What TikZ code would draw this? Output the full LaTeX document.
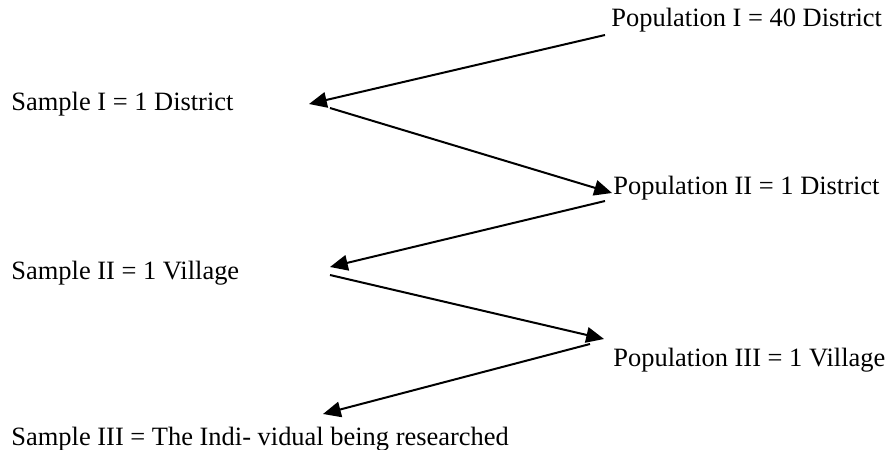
\documentclass[tikz,border=0pt]{standalone}
\usepackage{fontspec}
\setmainfont{Liberation Serif}
\usetikzlibrary{arrows.meta}
\begin{document}
\begin{tikzpicture}[x=0.45pt,y=-0.45pt,
  lbl/.style={anchor=base west,inner sep=0pt,font=\fontsize{11.9}{14}\selectfont},
  arr/.style={line width=0.9pt,-{Triangle[length=8pt,width=7pt]}}]
\useasboundingbox (0,0) rectangle (890,450);
\node[lbl] (p1) at (611,27) {Population I = 40 District};
\node[lbl] (s1) at (11,111) {Sample I = 1 District};
\node[lbl] (p2) at (613,195) {Population II = 1 District};
\node[lbl] (s2) at (11,280) {Sample II = 1 Village};
\node[lbl] (p3) at (613,366) {Population III = 1 Village};
\node[lbl] (s3) at (11,445) {Sample III = The Indi- vidual being researched};
\coordinate (a1s) at (605,35);
\coordinate (a1e) at (309,104);
\coordinate (a2s) at (330,108);
\coordinate (a2e) at (612,193);
\coordinate (a3s) at (605,201);
\coordinate (a3e) at (330,267);
\coordinate (a4s) at (330,275);
\coordinate (a4e) at (604,339);
\coordinate (a5s) at (590,344);
\coordinate (a5e) at (323,414);
\draw[arr] (a1s) -- (a1e);
\draw[arr] (a2s) -- (a2e);
\draw[arr] (a3s) -- (a3e);
\draw[arr] (a4s) -- (a4e);
\draw[arr] (a5s) -- (a5e);
\end{tikzpicture}
\end{document}
